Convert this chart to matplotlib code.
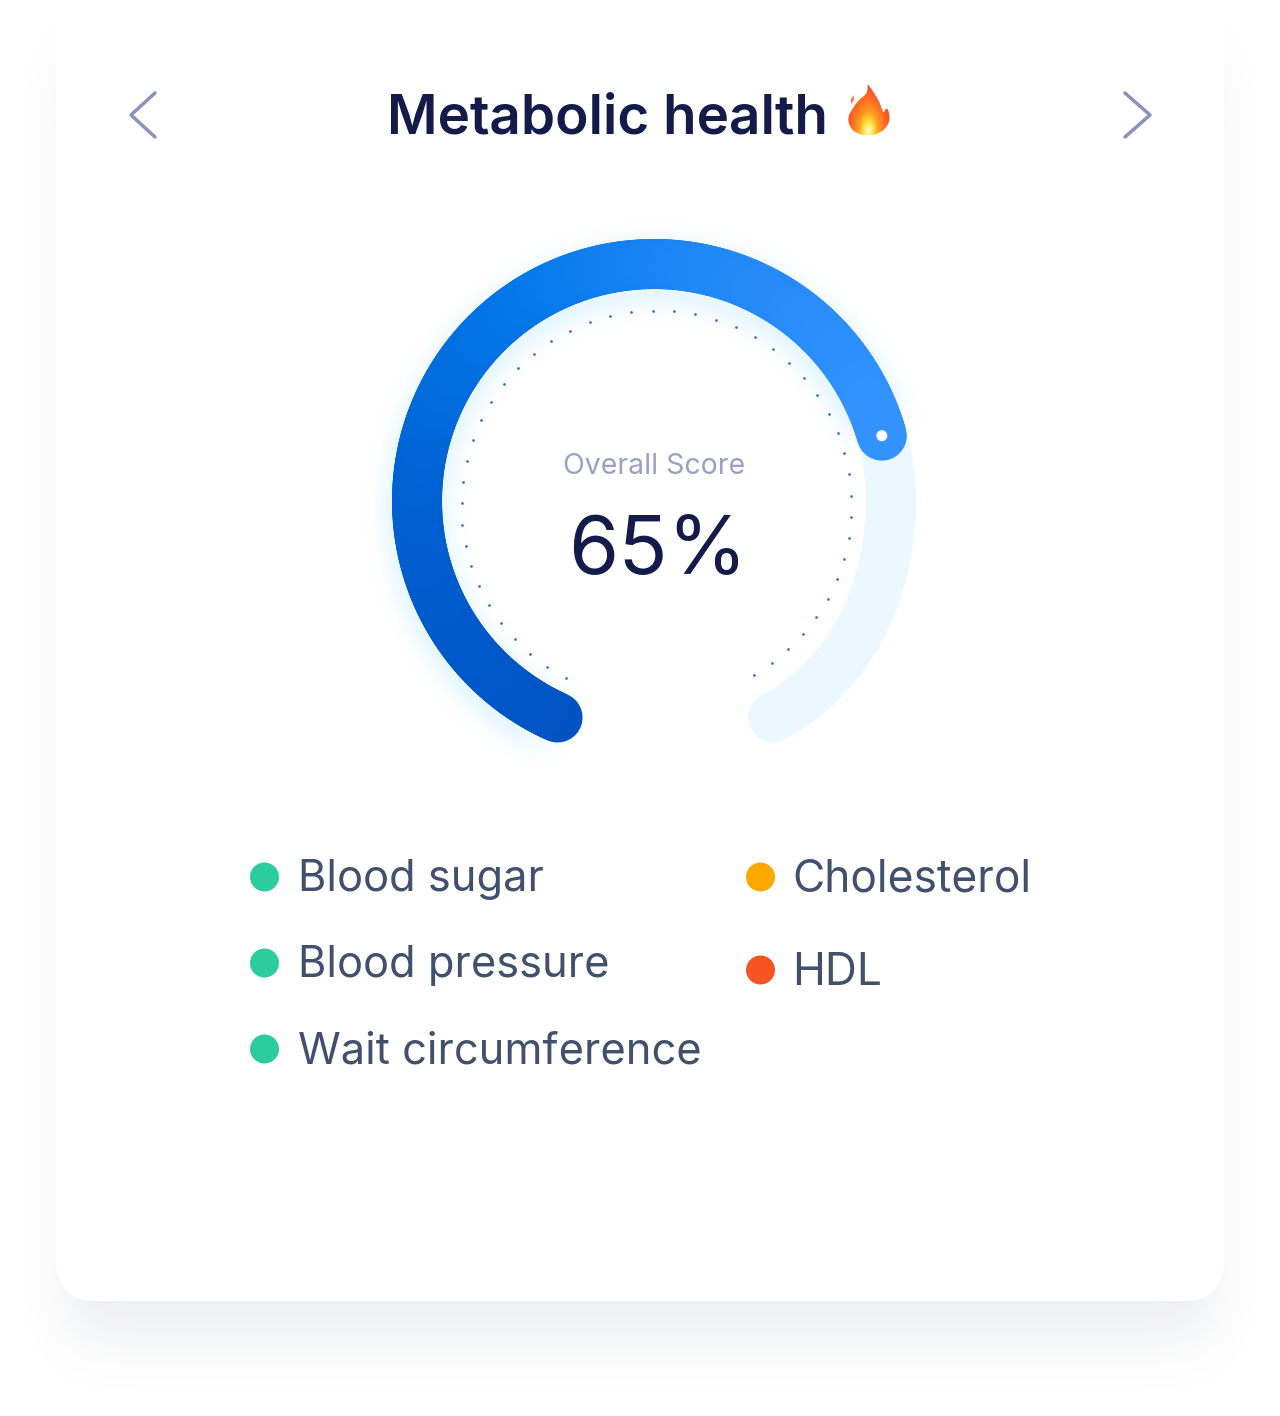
import math
import numpy as np
import matplotlib
matplotlib.use('Agg')
import matplotlib.pyplot as plt
from matplotlib.collections import LineCollection
from matplotlib.colors import LinearSegmentedColormap
from matplotlib.patches import Circle, FancyBboxPatch, PathPatch
from matplotlib.path import Path

W, H = 1280, 1416

# chart content
title = 'Metabolic health'
score_label = 'Overall Score'
score_value = '65%'
legend_left = ['Blood sugar', 'Blood pressure', 'Wait circumference']
legend_left_colors = ['#2BCC9E', '#2BCC9E', '#2BCC9E']
legend_right = ['Cholesterol', 'HDL']
legend_right_colors = ['#FFA800', '#F55523']

# gauge angles, degrees clockwise from straight up
blue_start, blue_end = -156.0, 74.0
track_start, track_end = 74.0, 155.8

plt.rcParams['font.family'] = ['Inter', 'DejaVu Sans']

PX = 72 / 100  # px to pt at dpi 100
CX, CY, RAD = 654, 501, 237


def arc_xy(a, cx=CX, cy=CY, r=RAD):
    a = np.radians(a)
    return cx + r * np.sin(a), cy - r * np.cos(a)


def erf_band(v, lo, hi, sigma):
    f = np.vectorize(math.erf)
    return 0.5 * (f((v - lo) / (sigma * 1.414)) - f((v - hi) / (sigma * 1.414)))


fig = plt.figure(figsize=(W / 100, H / 100), dpi=100, facecolor='white')
ax = fig.add_axes([0, 0, 1, 1])
ax.set_xlim(0, W)
ax.set_ylim(H, 0)
ax.axis('off')

# card shadow
xs = np.arange(W) + 0.5
ys = np.arange(H) + 0.5
shadow = np.outer(erf_band(ys, 60, 1335, 32), erf_band(xs, 68, 1212, 26))
rgba = np.zeros((H, W, 4))
rgba[..., :3] = np.array([0x2E, 0x36, 0x5C]) / 255
rgba[..., 3] = shadow * 0.095
ax.imshow(rgba, extent=(0, W, H, 0), aspect='auto', zorder=1)
ax.set_xlim(0, W)
ax.set_ylim(H, 0)

# card
ax.add_patch(FancyBboxPatch((56 + 40, -40 + 40), 1168 - 80, 1341 - 80 - 0,
                            boxstyle='round,pad=40,rounding_size=40',
                            fc='white', ec='none', zorder=2))

# glow around the blue arc, dropped a little below it
gx, gy = np.meshgrid(np.arange(340, 970), np.arange(190, 800))
dist = np.hypot(gx + 0.5 - CX, gy + 0.5 - CY - 8)
ang = np.degrees(np.arctan2(gx + 0.5 - CX, CY + 8 - gy - 0.5))
in_arc = np.clip((ang - blue_start + 4) / 12, 0, 1) * np.clip((blue_end - ang) / 10, 0, 1)
glow = np.exp(-(np.maximum(np.abs(dist - RAD) - 22, 0) / 15) ** 2) * in_arc
rgba = np.zeros(gx.shape + (4,))
rgba[..., :3] = np.array([0x8C, 0xD8, 0xFF]) / 255
rgba[..., 3] = glow * 0.2
ax.imshow(rgba, extent=(340, 970, 800, 190), aspect='auto', zorder=3)
ax.set_xlim(0, W)
ax.set_ylim(H, 0)

# light track, its lower part bends outwards a little
t = np.linspace(track_start, track_end, 80)
tx, ty = arc_xy(t)
tx = tx + 22 * np.clip((t - 95) / (track_end - 95), 0, 1) ** 1.5
ax.add_collection(LineCollection([np.column_stack([tx, ty])], colors='#EBF8FF',
                                 linewidths=50 * PX, capstyle='round', zorder=4))

# blue arc, colour follows the angle
stops = [(0.0, '#0053C3'), (0.3, '#0060D2'), (0.55, '#0478EA'), (0.72, '#1E86F5'), (1.0, '#3293FF')]
cmap = LinearSegmentedColormap.from_list('arc', stops)
t = np.linspace(blue_start, blue_end, 260)
bx, by = arc_xy(t)
segs = [[(bx[i], by[i]), (bx[i + 1], by[i + 1])] for i in range(len(t) - 1)]
ax.add_collection(LineCollection(segs, colors=cmap(np.linspace(0, 1, len(segs))),
                                 linewidths=50 * PX, capstyle='round', zorder=5))
ax.add_patch(Circle(arc_xy(blue_end), 5.5, fc='white', ec='none', zorder=6))

# dotted inner ring
d = -1.1 + 6.3 * np.arange(-24, 25)
dx, dy = arc_xy(d, 656.5, 505.5, 195)
ax.scatter(dx, dy, s=(2.7 * PX) ** 2, c='#2B6FDC', linewidths=0, zorder=6)

# centre text
ax.text(654.5, 466, score_label, fontsize=28.4 * PX, color='#9AA1C6', ha='center', va='center', zorder=7)
ax.text(657.5, 553, score_value, fontsize=81 * PX, color='#121B4A', ha='center', va='center', zorder=7)

# title and arrows
ax.text(387, 119, title, fontsize=54.8 * PX, fontweight='semibold', color='#121B4A',
        ha='left', va='center', zorder=7)
for pts in ([(155, 93), (131, 115), (155, 137)], [(1125, 93), (1150, 115), (1125, 137)]):
    ax.plot(*zip(*pts), color='#8A93BC', lw=3.5 * PX, solid_capstyle='round',
            solid_joinstyle='round', zorder=7)

# flame icon
flame = np.array([(143, 40), (150, 52), (165, 72), (178, 95), (186, 118), (191, 130), (200, 110),
                  (210, 135), (206, 165), (180, 190), (145, 198), (108, 190), (88, 170),
                  (83, 140), (97, 118), (108, 100), (122, 85), (140, 72), (143, 55)], float)
flame = flame / 3 + np.array([820, 70])
mids = (flame + np.roll(flame, -1, axis=0)) / 2
verts, codes = [mids[-1]], [Path.MOVETO]
for p, m in zip(flame, mids):
    verts += [p, m]
    codes += [Path.CURVE3, Path.CURVE3]
flame_path = Path(verts, codes)
fx, fy = np.meshgrid(np.linspace(845, 892, 94), np.linspace(80, 140, 120))
fr = np.hypot((fx - 868.5) / 24, (fy - 131) / 46)
fire = LinearSegmentedColormap.from_list('fire', [(0, '#FFFBD8'), (0.18, '#FFE94A'), (0.42, '#FF9C1C'),
                                                  (0.72, '#FF6A24'), (1, '#F4492A')])
im = ax.imshow(fire(np.clip(fr, 0, 1)), extent=(845, 892, 140, 80), aspect='auto', zorder=7)
im.set_clip_path(PathPatch(flame_path, transform=ax.transData))
ax.add_patch(PathPatch(Path([(853.5, 95), (851, 99), (851, 104), (854, 100), (853.5, 95)]),
                       fc='#FF7A35', ec='none', zorder=7))
ax.set_xlim(0, W)
ax.set_ylim(H, 0)

# legend
for i, (name, col) in enumerate(zip(legend_left, legend_left_colors)):
    y = 877 + i * 86
    ax.add_patch(Circle((264.5, y), 14.5, fc=col, ec='none', zorder=7))
    ax.text(298, y + 3, name, fontsize=43.4 * PX, color='#41506C', ha='left', va='center', zorder=7)
for i, (name, col) in enumerate(zip(legend_right, legend_right_colors)):
    y = 877 + i * 93
    ax.add_patch(Circle((760.5, y), 14.5, fc=col, ec='none', zorder=7))
    ax.text(792.5, y + 3, name, fontsize=44.3 * PX, color='#41506C', ha='left', va='center', zorder=7)

fig.savefig('out.png', dpi=100, facecolor='white')
